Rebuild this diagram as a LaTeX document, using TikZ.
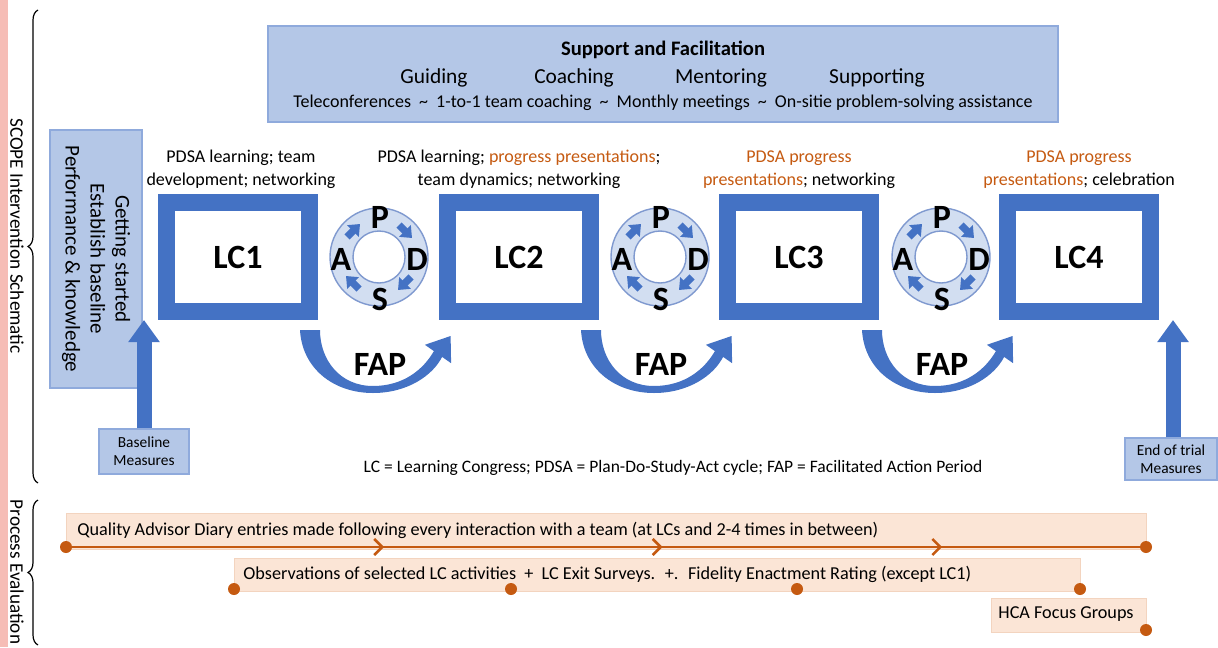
\documentclass[tikz,border=0pt]{standalone}
\usepackage{fontspec}
\setmainfont{Carlito}
\usetikzlibrary{arrows.meta,decorations.pathreplacing,decorations.markings,calc}

\definecolor{lcblue}{HTML}{4472C4}
\definecolor{boxblue}{HTML}{B4C7E7}
\definecolor{boxedge}{HTML}{8FAADC}
\definecolor{ringfill}{HTML}{D2DEF1}
\definecolor{ringedge}{HTML}{7F99CF}
\definecolor{orng}{HTML}{C55A11}
\definecolor{peach}{HTML}{FBE5D6}
\definecolor{peachedge}{HTML}{F3D4BF}
\definecolor{sidepink}{HTML}{F6BDB6}

% spaced tilde separator
\newcommand{\tld}{\hspace{0.45em}\textasciitilde\hspace{0.45em}}

\tikzset{
  lcbox/.style={draw=lcblue, line width=8.5pt, fill=white, minimum width=71.5pt,
    minimum height=54.5pt, inner sep=0pt, font=\fontsize{17}{20}\selectfont\bfseries},
  infobox/.style={draw=boxedge, fill=boxblue, line width=0.6pt, inner sep=0pt},
  lclabel/.style={align=center, font=\fontsize{9}{11.5}\selectfont, inner sep=0pt},
  pletter/.style={font=\fontsize{17}{19}\selectfont\bfseries, inner sep=0pt},
  faptext/.style={font=\fontsize{17}{20}\selectfont\bfseries, inner sep=0pt},
  ringarrow/.style={draw=lcblue, line width=3.6pt, -{Triangle[length=5pt,width=8pt]}},
  bigarrow/.style={draw=lcblue, line width=7.5pt, -{Triangle[length=11pt,width=15pt]}},
  measure/.style={infobox, align=center, font=\fontsize{7.7}{9}\selectfont},
  band/.style={fill=peach, draw=peachedge, line width=0.4pt, inner sep=0pt},
  bandtext/.style={font=\fontsize{9.1}{11}\selectfont, inner sep=0pt},
  dot/.style={circle, fill=orng, minimum size=6pt, inner sep=0pt},
  sidebrace/.style={decorate, decoration={brace, amplitude=5pt}, line width=0.6pt},
  sidetext/.style={rotate=-90, font=\fontsize{9.6}{11}\selectfont, inner sep=0pt},
  pdsa/.pic={
    \node[circle, draw=ringedge, fill=ringfill, line width=0.7pt, minimum size=49pt, inner sep=0pt] (-ring) at (0,0) {};
    \node[circle, draw=ringedge, fill=white, line width=0.7pt, minimum size=26pt, inner sep=0pt] (-hole) at (0,0) {};
    \draw[ringarrow] (20,-32) -- (33,-19);
    \draw[ringarrow] (32,20) -- (19,33);
    \draw[ringarrow] (-20,32) -- (-33,19);
    \draw[ringarrow] (-32,-20) -- (-19,-33);
    \node[pletter] (-P) at (1,-40) {P};
    \node[pletter] (-D) at (38,2) {D};
    \node[pletter] (-S) at (1,42) {S};
    \node[pletter] (-A) at (-38,2) {A};
  },
  fap/.pic={
    \fill[lcblue] (-78,10) .. controls (-76,48) and (-45,73) .. (-5,73)
        .. controls (30,73) and (55,55) .. (64.1,36.9)
        -- (73.1,43.2) -- (72.6,16) -- (46.9,24.8) -- (55.9,31.1)
        .. controls (45,50) and (25,66) .. (-5,66)
        .. controls (-38,66) and (-58,40) .. (-58,10) -- cycle;
    \node[faptext] (-lbl) at (2,44) {FAP};
  },
}

\begin{document}
\begin{tikzpicture}[x=0.5pt,y=-0.5pt]
\useasboundingbox (0,0) rectangle (1218,647);

% side strip
\fill[sidepink] (0,0) rectangle (8,647);

% section braces and titles
\coordinate (ub1) at (38,483);
\coordinate (ub2) at (38,10);
\coordinate (lb1) at (38,645);
\coordinate (lb2) at (38,500);
\draw[sidebrace] (ub1) -- (ub2);
\draw[sidebrace] (lb1) -- (lb2);
\node[sidetext] (scope) at (17,236) {SCOPE Intervention Schematic};
\node[sidetext] (proc) at (17,572) {Process Evaluation};

% support and facilitation banner
\node[infobox, minimum width=395pt, minimum height=48pt] (support) at (663,74) {};
\node[font=\fontsize{10.3}{12}\selectfont\bfseries, inner sep=0pt] (suptitle) at (663,50) {Support and Facilitation};
\node[font=\fontsize{10.7}{12}\selectfont, inner sep=0pt] (guide) at (434,78) {Guiding};
\node[font=\fontsize{10.7}{12}\selectfont, inner sep=0pt] (coach) at (574,78) {Coaching};
\node[font=\fontsize{10.7}{12}\selectfont, inner sep=0pt] (mentor) at (721,78) {Mentoring};
\node[font=\fontsize{10.7}{12}\selectfont, inner sep=0pt] (suppw) at (877,78) {Supporting};
\node[font=\fontsize{9}{10}\selectfont, inner sep=0pt] (supline) at (663,103)
  {Teleconferences\tld 1-to-1 team coaching\tld Monthly meetings\tld On-sitie problem-solving assistance};

% getting started panel
\node[infobox, minimum width=46pt, minimum height=129pt] (start) at (96,259) {};
\node[rotate=-90, align=center, font=\fontsize{10.5}{12.5}\selectfont, inner sep=0pt] (starttxt) at (start.center)
  {Getting started\\Establish baseline\\Performance \& knowledge};

% measurement boxes with their arrows
\node[measure, minimum width=45pt, minimum height=22.5pt] (base) at (144,451.5) {Baseline\\Measures};
\node[measure, minimum width=46pt, minimum height=21pt] (endm) at (1171,459) {End of trial\\Measures};
\coordinate (btip) at (144,320);
\coordinate (etip) at (1173,320);
\draw[bigarrow] (base.north) -- (btip);
\draw[bigarrow] (endm.north -| etip) -- (etip);

% learning congresses
\node[lcbox] (lc1) at (238,257) {LC1};
\node[lcbox] (lc2) at (519,257) {LC2};
\node[lcbox] (lc3) at (799,257) {LC3};
\node[lcbox] (lc4) at (1079,257) {LC4};

\node[lclabel] (lab1) at ($(lc1.north)+(3,-24.5)$) {PDSA learning; team\\development; networking};
\node[lclabel] (lab2) at ($(lc2.north)+(0,-24.5)$) {PDSA learning; \textcolor{orng}{progress presentations};\\team dynamics; networking};
\node[lclabel] (lab3) at ($(lc3.north)+(0,-24.5)$) {\textcolor{orng}{PDSA progress}\\\textcolor{orng}{presentations}; networking};
\node[lclabel] (lab4) at ($(lc4.north)+(0,-24.5)$) {\textcolor{orng}{PDSA progress}\\\textcolor{orng}{presentations}; celebration};

% PDSA cycles between congresses
\pic (r1) at (379,257) {pdsa};
\pic (r2) at (660,257) {pdsa};
\pic (r3) at (941,257) {pdsa};

% facilitated action periods
\pic (f1) at (378,320) {fap};
\pic (f2) at (659,320) {fap};
\pic (f3) at (940,320) {fap};

% key
\node[font=\fontsize{8.75}{10}\selectfont, inner sep=0pt] (key) at (673,468)
  {LC = Learning Congress; PDSA = Plan-Do-Study-Act cycle; FAP = Facilitated Action Period};

% process evaluation bands
\node[band, minimum width=540pt, minimum height=18pt] (band1) at (606,531) {};
\node[bandtext, anchor=west] (txt1) at (77,530)
  {Quality Advisor Diary entries made following every interaction with a team (at LCs and 2-4 times in between)};
\node[dot] (q0) at (66,547) {};
\node[dot] (q1) at (1146,547) {};
\draw[orng, line width=1.3pt, postaction={decorate}, decoration={markings,
    mark=at position 0.292 with {\arrow{Straight Barb[length=4pt,width=8pt]}},
    mark=at position 0.553 with {\arrow{Straight Barb[length=4pt,width=8pt]}},
    mark=at position 0.815 with {\arrow{Straight Barb[length=4pt,width=8pt]}}}]
  (q0) -- (q1);

\node[band, minimum width=423pt, minimum height=16.5pt] (band2) at (657,574.5) {};
\node[bandtext, anchor=west] (txt2) at (243,574)
  {Observations of selected LC activities \ + \ LC Exit Surveys. \ +. \ Fidelity Enactment Rating (except LC1)};
\node[dot] (o1) at (234,589) {};
\node[dot] (o2) at (511,589) {};
\node[dot] (o3) at (797,589) {};
\node[dot] (o4) at (1080,589) {};

\node[band, minimum width=77.5pt, minimum height=17pt] (band3) at (1068.5,615) {};
\node[bandtext] (txt3) at (1066,614) {HCA Focus Groups};
\node[dot] (h1) at (1146,630) {};

\end{tikzpicture}
\end{document}
